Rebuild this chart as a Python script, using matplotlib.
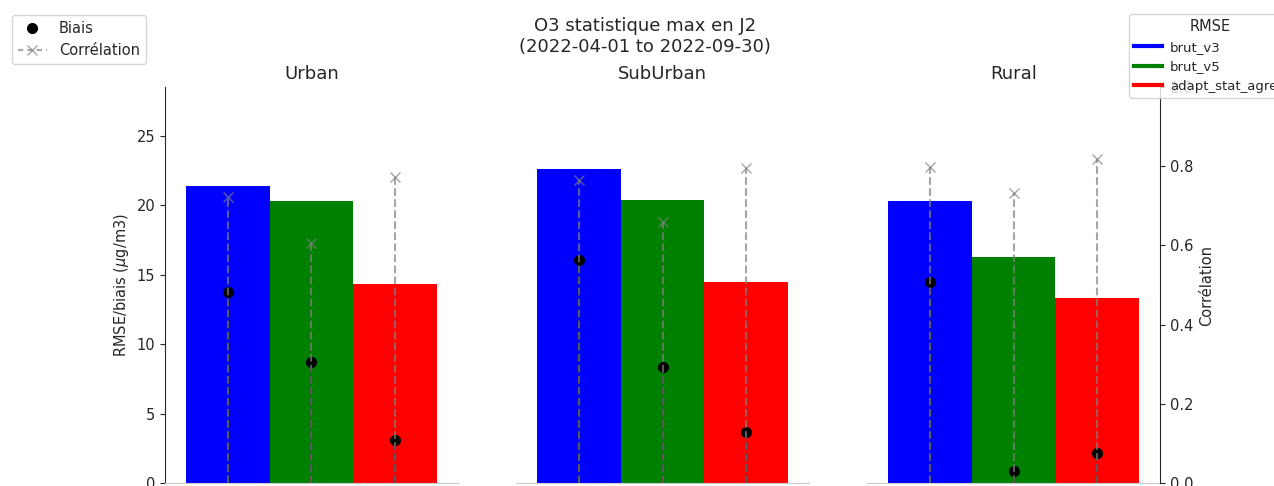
import matplotlib
matplotlib.use('Agg')
import matplotlib.pyplot as plt
from matplotlib.lines import Line2D

# ---- data ----
zones = ['Urban', 'SubUrban', 'Rural']
models = ['brut_v3', 'brut_v5', 'adapt_stat_agreg']
model_colors = ['blue', 'green', 'red']

rmse_brut_v3 = [21.4, 22.6, 20.3]
rmse_brut_v5 = [20.3, 20.4, 16.3]
rmse_adapt = [14.35, 14.45, 13.3]

biais_brut_v3 = [13.75, 16.05, 14.45]
biais_brut_v5 = [8.7, 8.35, 0.85]
biais_adapt = [3.1, 3.65, 2.15]

corr_brut_v3 = [0.722, 0.765, 0.797]
corr_brut_v5 = [0.605, 0.658, 0.732]
corr_adapt = [0.772, 0.795, 0.818]

rmse_all = [rmse_brut_v3, rmse_brut_v5, rmse_adapt]
biais_all = [biais_brut_v3, biais_brut_v5, biais_adapt]
corr_all = [corr_brut_v3, corr_brut_v5, corr_adapt]

dark = '#262626'
plt.rcParams.update({
    'text.color': dark, 'axes.labelcolor': dark,
    'xtick.color': dark, 'ytick.color': dark,
    'axes.edgecolor': dark, 'font.size': 10.5,
})

fig, axes = plt.subplots(1, 3, figsize=(12.74, 4.86), dpi=100, sharey=True)
fig.subplots_adjust(left=165 / 1274, right=1160 / 1274, bottom=3 / 486,
                    top=1 - 87 / 486, wspace=0.2)

width = 1.0
for zi, (ax, zone) in enumerate(zip(axes, zones)):
    ax2 = ax.twinx()
    for mi in range(len(models)):
        x = (mi - 1) * width
        ax.bar(x, rmse_all[mi][zi], width=width, color=model_colors[mi], zorder=1)
        ax.plot([x, x], [0, biais_all[mi][zi]], color='black', ls='--', lw=1.5,
                marker='o', markersize=7, markevery=[1], zorder=3)
        ax2.plot([x, x], [0, corr_all[mi][zi]], color='gray', alpha=0.7, ls='--',
                 lw=1.5, marker='x', markersize=7, markevery=[1])
    ax.set_xlim(-1.75, 1.75)
    ax.set_ylim(0, 28.5)
    ax2.set_ylim(0, 1.0)
    ax.set_xticks([])
    ax.set_title(zone, fontsize=13)
    for s in ['top', 'right']:
        ax.spines[s].set_visible(False)
    ax.spines['bottom'].set_color('#cccccc')
    for s in ['top', 'left', 'bottom']:
        ax2.spines[s].set_visible(False)
    if zi > 0:
        ax.spines['left'].set_visible(False)
        ax.tick_params(axis='y', left=False, labelleft=False)
    if zi < 2:
        ax2.spines['right'].set_visible(False)
        ax2.set_yticks([])
    else:
        ax2.set_ylabel('Corrélation')

axes[0].set_ylabel(r'RMSE/biais ($\mu$g/m3)')
axes[0].set_yticks([0, 5, 10, 15, 20, 25])

fig.suptitle('O3 statistique max en J2\n(2022-04-01 to 2022-09-30)',
             x=645 / 1274, y=1 - 17 / 486, va='top', fontsize=13)

h1 = [Line2D([], [], color='black', marker='o', ls='none', markersize=7),
      Line2D([], [], color='gray', alpha=0.7, ls='--', marker='x', markersize=7,
             dashes=(2.5, 2))]
fig.legend(h1, ['Biais', 'Corrélation'], loc='upper left',
           bbox_to_anchor=(12 / 1274, 1 - 15 / 486), borderaxespad=0,
           fontsize=10.5)

h2 = [Line2D([], [], color=c, lw=3) for c in model_colors]
fig.legend(h2, models, loc='upper left', title='RMSE',
           bbox_to_anchor=(1129 / 1274, 1 - 14 / 486), borderaxespad=0,
           fontsize=9.5, title_fontsize=10.5, handlelength=2.1,
           handletextpad=0.6)

fig.savefig('out.png', dpi=100)
